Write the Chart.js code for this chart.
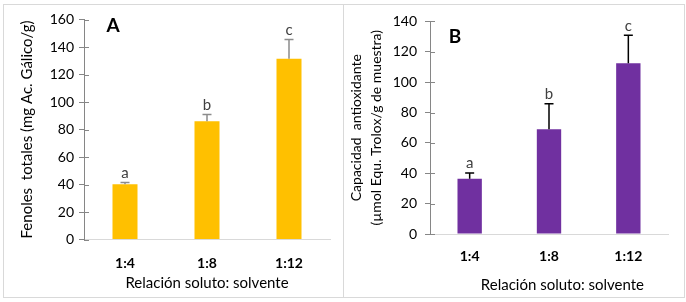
<!DOCTYPE html>
<html>
<head>
<meta charset="utf-8">
<script src="https://cdn.jsdelivr.net/npm/chart.js@4"></script>
<style>
  html, body { margin: 0; padding: 0; background: #fff; }
  #frame { position: absolute; left: 3px; top: 4px; width: 680px; height: 292px; border: 1px solid #d9d9d9; }
  #divider { position: absolute; left: 343px; top: 4px; width: 1px; height: 294px; background: #d9d9d9; }
  canvas { position: absolute; }
  #graficoA { left: 4px; top: 5px; }
  #graficoB { left: 344px; top: 5px; }
</style>
</head>
<body>
<div id="frame"></div>
<div id="divider"></div>
<canvas id="graficoA" width="338" height="291"></canvas>
<canvas id="graficoB" width="339" height="291"></canvas>
<script>
const categorias = ["1:4", "1:8", "1:12"];
const letras = ["a", "b", "c"];
const fenoles = [40.1, 86, 131.5];
const fenolesErr = [1.3, 5, 14];
const antioxidante = [36.4, 69, 112.5];
const antioxidanteErr = [3.7, 16.7, 18.4];

const fuente = "'Lato', sans-serif";

// barras de error (solo hacia arriba), letras y marcas del eje y
const extras = {
  id: "extras",
  afterDatasetsDraw(chart, args, opts) {
    const { ctx, scales: { x, y }, chartArea } = chart;
    const data = chart.data.datasets[0].data;
    ctx.save();
    data.forEach((v, i) => {
      const cx = x.getPixelForValue(i);
      const y0 = y.getPixelForValue(v);
      const y1 = y.getPixelForValue(v + opts.errores[i]);
      ctx.strokeStyle = opts.colorError;
      ctx.lineWidth = 1.5;
      ctx.beginPath();
      ctx.moveTo(cx, y0);
      ctx.lineTo(cx, y1);
      ctx.moveTo(cx - 4.5, y1);
      ctx.lineTo(cx + 4.5, y1);
      ctx.stroke();
      ctx.fillStyle = "#404040";
      ctx.font = "15px " + fuente;
      ctx.textAlign = "center";
      ctx.textBaseline = "bottom";
      ctx.fillText(opts.letras[i], cx, y1 - 2);
    });
    // marcas del eje y hacia dentro
    ctx.strokeStyle = "#868686";
    ctx.lineWidth = 1;
    y.ticks.forEach((t, i) => {
      const py = Math.round(y.getPixelForTick(i)) + 0.5;
      ctx.beginPath();
      ctx.moveTo(chartArea.left, py);
      ctx.lineTo(chartArea.left + 5, py);
      ctx.stroke();
    });
    ctx.fillStyle = "#000";
    ctx.font = "bold 19px " + fuente;
    ctx.textAlign = "center";
    ctx.textBaseline = "middle";
    ctx.fillText(opts.panel, chartArea.left + opts.panelX, chartArea.top + opts.panelY);
    ctx.restore();
  }
};

function opciones(cfg) {
  return {
    responsive: false,
    animation: false,
    layout: { padding: cfg.padding },
    plugins: {
      legend: { display: false },
      tooltip: { enabled: false },
      extras: {
        errores: cfg.errores,
        letras: letras,
        colorError: cfg.colorError,
        panel: cfg.panel,
        panelX: cfg.panelX,
        panelY: cfg.panelY
      }
    },
    scales: {
      x: {
        afterFit: s => { s.height = cfg.altoX; },
        grid: { display: false },
        border: { color: "#d9d9d9", width: 1 },
        ticks: {
          color: "#000",
          padding: cfg.padTicksX,
          font: { family: fuente, size: 14, weight: "bold" }
        },
        title: {
          display: true,
          text: cfg.tituloX,
          color: "#000",
          padding: { top: 0, bottom: cfg.padTituloX },
          font: { family: fuente, size: 15 }
        }
      },
      y: {
        min: 0,
        max: cfg.max,
        afterFit: s => { s.width = cfg.anchoY; },
        grid: { drawOnChartArea: false, drawTicks: true, tickLength: 5, color: "#868686" },
        border: { color: "#868686", width: 1 },
        ticks: {
          stepSize: 20,
          color: "#000",
          padding: cfg.padTicksY,
          font: { family: fuente, size: 14 }
        },
        title: {
          display: true,
          text: cfg.tituloY,
          color: "#000",
          padding: { top: cfg.padTituloY, bottom: 0 },
          font: { family: fuente, size: cfg.tamTituloY, lineHeight: 1.45 }
        }
      }
    }
  };
}

new Chart(document.getElementById("graficoA").getContext("2d"), {
  type: "bar",
  data: {
    labels: categorias,
    datasets: [{
      data: fenoles,
      backgroundColor: "#FFC000",
      categoryPercentage: 1,
      barPercentage: 0.305
    }]
  },
  options: opciones({
    padding: { top: 14.5, right: 12, bottom: 0, left: 0 },
    errores: fenolesErr,
    colorError: "#8c8c8c",
    panel: "A",
    panelX: 29,
    panelY: 6,
    max: 160,
    altoX: 56.5,
    anchoY: 80,
    padTicksY: 5,
    padTicksX: 7.5,
    padTituloX: 4,
    padTituloY: 12,
    tamTituloY: 15,
    tituloX: "Relación soluto: solvente",
    tituloY: "Fenoles  totales (mg Ac. Gálico/g)"
  }),
  plugins: [extras]
});

new Chart(document.getElementById("graficoB").getContext("2d"), {
  type: "bar",
  data: {
    labels: categorias,
    datasets: [{
      data: antioxidante,
      backgroundColor: "#7030A0",
      categoryPercentage: 1,
      barPercentage: 0.307
    }]
  },
  options: opciones({
    padding: { top: 10, right: 15, bottom: 0, left: 0 },
    errores: antioxidanteErr,
    colorError: "#000",
    panel: "B",
    panelX: 25,
    panelY: 15,
    max: 140,
    altoX: 62,
    anchoY: 86,
    padTicksY: 8,
    padTicksX: 6.5,
    padTituloX: 2,
    padTituloY: 2,
    tamTituloY: 14,
    tituloX: "\u00a0\u00a0\u00a0\u00a0\u00a0\u00a0\u00a0Relación soluto: solvente",
    tituloY: ["Capacidad  antioxidante", "(µmol Equ. Trolox/g de muestra)"]
  }),
  plugins: [extras]
});
</script>
</body>
</html>
